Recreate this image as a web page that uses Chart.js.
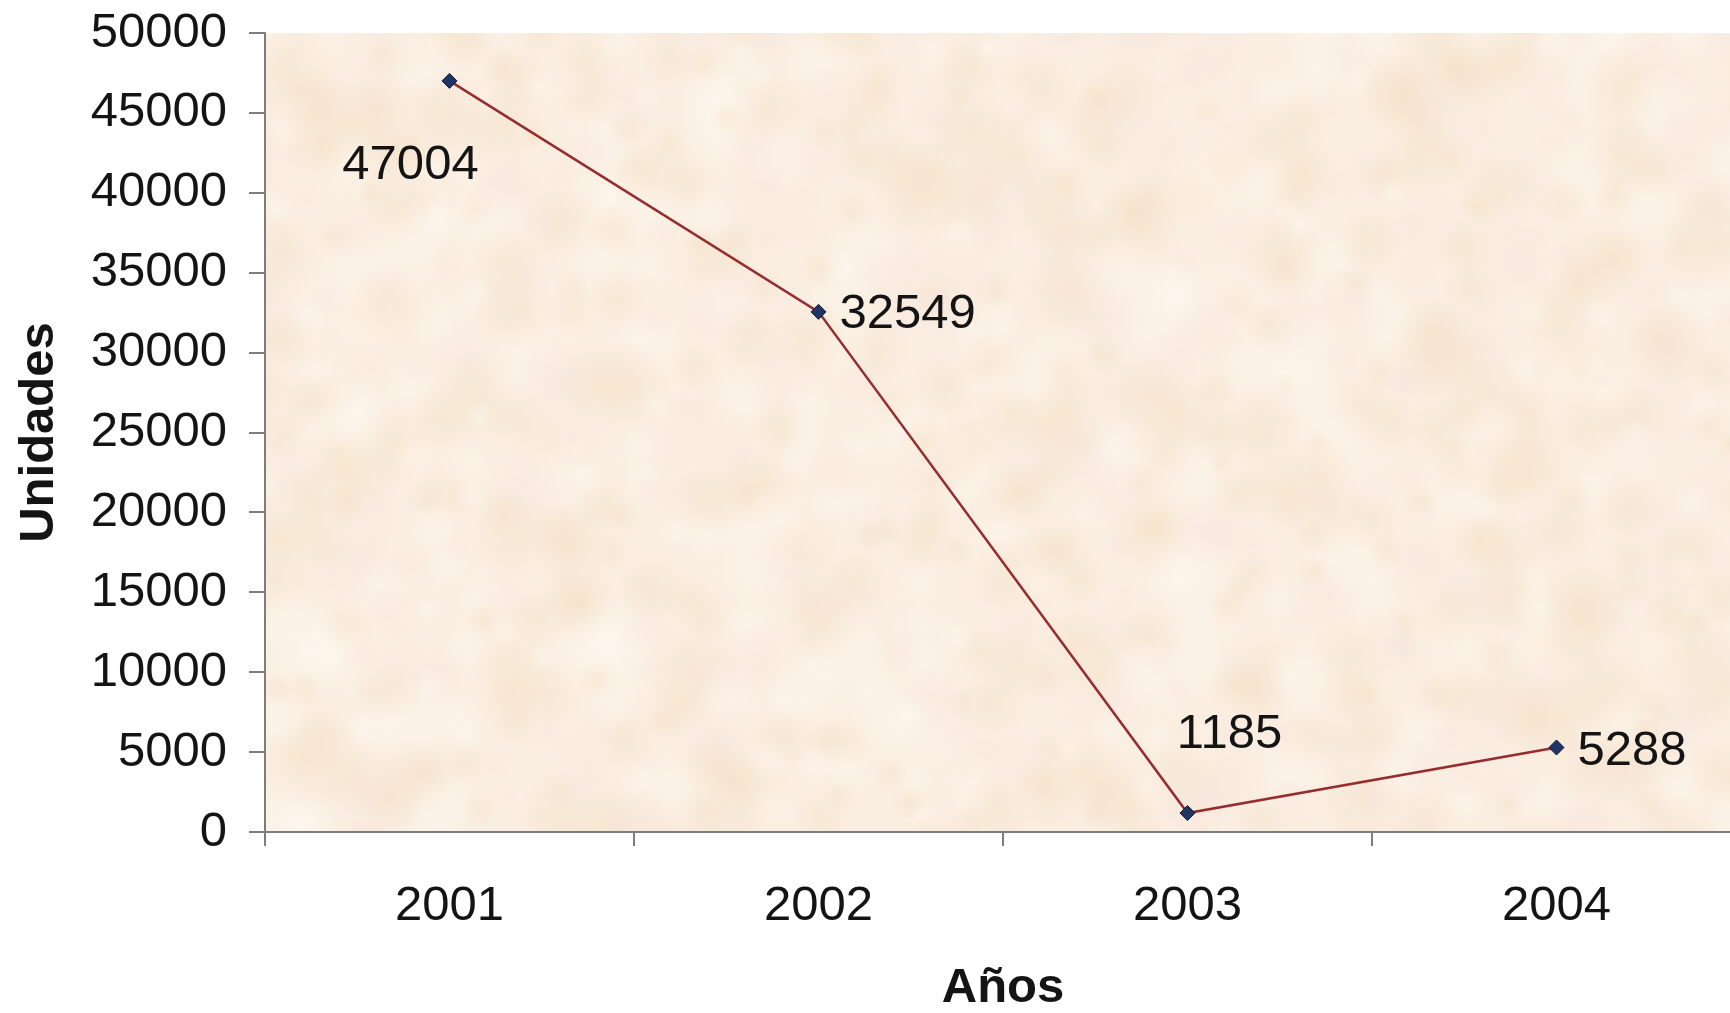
<!DOCTYPE html>
<html lang="es">
<head>
<meta charset="utf-8">
<title>Unidades por año</title>
<script src="https://cdn.jsdelivr.net/npm/chart.js@4.4.1/dist/chart.umd.min.js"></script>
<style>
  html, body { margin: 0; padding: 0; background: #ffffff; overflow: hidden; }
  #wrap { width: 1760px; height: 1013px; }
</style>
</head>
<body>
<div id="wrap"><canvas id="c" width="1760" height="1013"></canvas></div>
<script>
// Years on the category axis
const years = ['2001', '2002', '2003', '2004'];
// Units per year
const units = [47004, 32549, 1185, 5288];
// Value axis ticks
const yTicks = [0, 5000, 10000, 15000, 20000, 25000, 30000, 35000, 40000, 45000, 50000];

const FONT = '"Liberation Sans", Arial, Helvetica, sans-serif';
const TEXT = '#141414';
const SIZE = 49;

// Where each value label sits around its marker
const labelPlacement = [
  { dx: -39, dy: 85, align: 'center' },
  { dx: 21, dy: 3, align: 'left' },
  { dx: 42, dy: -79, align: 'center' },
  { dx: 21, dy: 4, align: 'left' }
];

// Warm paper-like plot background
const plotBackground = {
  id: 'plotBackground',
  beforeDraw(chart) {
    const { ctx, chartArea: a } = chart;
    ctx.save();
    ctx.beginPath();
    ctx.rect(a.left, a.top, a.right - a.left, a.bottom - a.top);
    ctx.clip();
    ctx.fillStyle = '#faeee1';
    ctx.fillRect(a.left, a.top, a.right - a.left, a.bottom - a.top);
    // soft mottling from a fixed hash so the texture never changes
    const hash = (i, j, k) => {
      let h = (i * 374761393 + j * 668265263 + k * 2246822519) | 0;
      h = Math.imul(h ^ (h >>> 13), 1274126177);
      return ((h ^ (h >>> 16)) >>> 0) / 4294967295;
    };
    const cell = 38;
    for (let gy = -1; gy * cell < a.bottom - a.top + cell; gy++) {
      for (let gx = -1; gx * cell < a.right - a.left + cell; gx++) {
        const x = a.left + gx * cell + hash(gx + 50, gy + 50, 1) * cell;
        const y = a.top + gy * cell + hash(gx + 50, gy + 50, 2) * cell;
        const r = 14 + hash(gx + 50, gy + 50, 3) * 34;
        const v = hash(gx + 50, gy + 50, 4);
        const col = v > 0.6 ? '242, 220, 190' : v > 0.3 ? '255, 251, 244' : '247, 228, 222';
        const g = ctx.createRadialGradient(x, y, 0, x, y, r);
        g.addColorStop(0, 'rgba(' + col + ', 0.38)');
        g.addColorStop(1, 'rgba(' + col + ', 0)');
        ctx.fillStyle = g;
        ctx.fillRect(x - r, y - r, r * 2, r * 2);
      }
    }
    ctx.restore();
  }
};

// Value labels next to each marker
const valueLabels = {
  id: 'valueLabels',
  afterDatasetsDraw(chart) {
    const { ctx } = chart;
    const meta = chart.getDatasetMeta(0);
    ctx.save();
    ctx.font = SIZE + 'px ' + FONT;
    ctx.fillStyle = TEXT;
    ctx.textBaseline = 'middle';
    meta.data.forEach((pt, i) => {
      const p = labelPlacement[i];
      ctx.textAlign = p.align;
      ctx.fillText(String(chart.data.datasets[0].data[i]), pt.x + p.dx, pt.y + p.dy);
    });
    ctx.restore();
  }
};

new Chart(document.getElementById('c'), {
  type: 'line',
  data: {
    labels: years,
    datasets: [{
      data: units,
      borderColor: '#962c30',
      borderWidth: 2.5,
      pointStyle: 'rectRot',
      pointRadius: 7.5,
      pointBackgroundColor: '#203566',
      pointBorderColor: '#101a33',
      pointBorderWidth: 1,
      tension: 0,
      clip: false
    }]
  },
  options: {
    responsive: false,
    animation: false,
    events: [],
    layout: { padding: { top: 33, right: 19, left: 0, bottom: 0 } },
    plugins: { legend: { display: false }, tooltip: { enabled: false } },
    scales: {
      x: {
        type: 'category',
        offset: true,
        grid: {
          offset: true,
          drawOnChartArea: false,
          drawTicks: true,
          tickLength: 14,
          color: '#7d7d7d',
          lineWidth: 2
        },
        border: { display: true, color: '#7d7d7d', width: 2 },
        ticks: { color: TEXT, font: { family: FONT, size: SIZE }, padding: 31, maxRotation: 0 },
        title: {
          display: true,
          text: 'Años',
          color: TEXT,
          font: { family: FONT, size: SIZE, weight: 'bold', lineHeight: 1.0 },
          padding: { top: 0, bottom: 0 }
        },
        afterFit(scale) { scale.height = 181; }
      },
      y: {
        min: 0,
        max: 50000,
        afterBuildTicks(scale) { scale.ticks = yTicks.map(v => ({ value: v })); },
        grid: {
          drawOnChartArea: false,
          drawTicks: true,
          tickLength: 16,
          color: '#7d7d7d',
          lineWidth: 2
        },
        border: { display: true, color: '#7d7d7d', width: 2 },
        ticks: {
          color: TEXT,
          font: { family: FONT, size: SIZE },
          padding: 22,
          autoSkip: false,
          callback: v => String(v)
        },
        title: {
          display: true,
          text: 'Unidades',
          color: TEXT,
          font: { family: FONT, size: SIZE, weight: 'bold', lineHeight: 1.0 },
          padding: { top: 15, bottom: 0 }
        },
        afterFit(scale) {
          scale.width = 265;
          // the top label may overhang the plot; the layout padding covers it
          scale.paddingTop = 0;
          scale.paddingBottom = 0;
        }
      }
    }
  },
  plugins: [plotBackground, valueLabels]
});
</script>
</body>
</html>
